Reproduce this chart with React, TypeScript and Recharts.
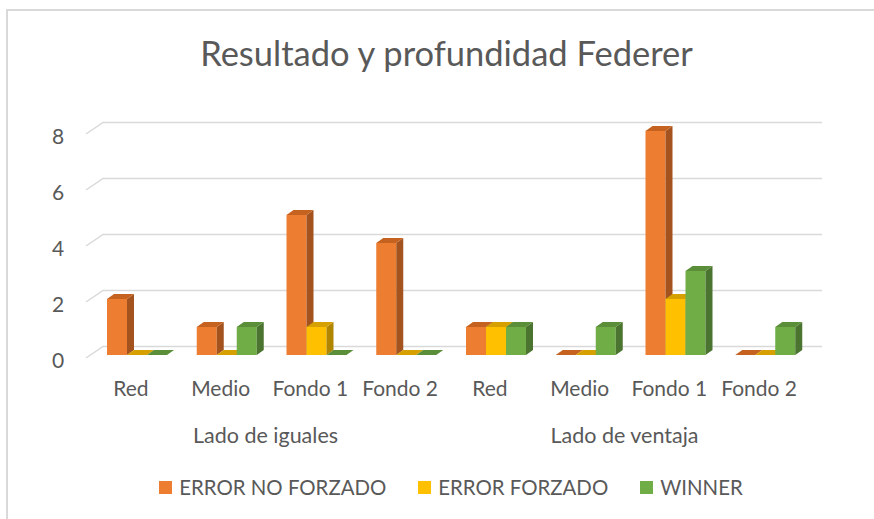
import { BarChart, Bar, XAxis, YAxis, CartesianGrid, Legend } from 'recharts'

const categories = ['Red', 'Medio', 'Fondo 1', 'Fondo 2', 'Red', 'Medio', 'Fondo 1', 'Fondo 2']
const groups = [
  'Lado de iguales',
  'Lado de iguales',
  'Lado de iguales',
  'Lado de iguales',
  'Lado de ventaja',
  'Lado de ventaja',
  'Lado de ventaja',
  'Lado de ventaja',
]
const errorNoForzado = [2, 1, 5, 4, 1, 0, 8, 0]
const errorForzado = [0, 0, 1, 0, 1, 0, 2, 0]
const winner = [0, 1, 0, 0, 1, 1, 3, 1]
const yTicks = [0, 2, 4, 6, 8]
const seriesOrder = ['ERROR NO FORZADO', 'ERROR FORZADO', 'WINNER']

const chartData = categories.map((cat, i) => ({
  cat,
  group: groups[i],
  noForzado: errorNoForzado[i],
  forzado: errorForzado[i],
  winner: winner[i],
}))

const FONT = 'Lato, "Open Sans", sans-serif'
const TEXT = '#595959'
const DX = 7
const DY = 5

function makeBox(front: string, top: string, side: string) {
  return function Box(props: any) {
    const { x, y, width, height } = props
    if (x == null || y == null) return <g />
    const w = width
    const h = Math.max(height, 0)
    return (
      <g>
        <rect x={x} y={y} width={w} height={h} fill={front} />
        <path
          d={`M${x + w},${y} L${x + w + DX},${y - DY} L${x + w + DX},${y + h - DY} L${x + w},${y + h} Z`}
          fill={side}
        />
        <path
          d={`M${x},${y} L${x + DX},${y - DY} L${x + w + DX},${y - DY} L${x + w},${y} Z`}
          fill={top}
        />
      </g>
    )
  }
}

const OrangeBox = makeBox('#ED7D31', '#C5621F', '#A4531E')
const YellowBox = makeBox('#FFC000', '#D6A100', '#B08500')
const GreenBox = makeBox('#70AD47', '#5A8E38', '#4B7430')

// back-wall gridline with the short slanted side-wall piece on the left
function GridLine(props: any) {
  const { x1, x2, y1, key } = props
  return (
    <path
      key={key}
      d={`M${x1 - 6},${y1 + 3} L${x1 + 11},${y1 - 8.5} L${x2 + 12},${y1 - 8.5}`}
      stroke="#D9D9D9"
      strokeWidth={1.5}
      fill="none"
    />
  )
}

function YTick(props: any) {
  const { x, y, payload } = props
  return (
    <text x={x - 26} y={y + 4} textAnchor="middle" dominantBaseline="central" fill={TEXT} fontSize={21} fontFamily={FONT}>
      {payload.value}
    </text>
  )
}

function CatTick(props: any) {
  const { x, y, payload } = props
  return (
    <text x={x - 6} y={y + 33} textAnchor="middle" fill={TEXT} fontSize={21} fontFamily={FONT}>
      {payload.value}
    </text>
  )
}

function GroupTick(props: any) {
  const { x, y, payload } = props
  return (
    <text x={x - 6} y={y + 40} textAnchor="middle" fill={TEXT} fontSize={21.5} fontFamily={FONT}>
      {payload.value}
    </text>
  )
}

function LegendContent(props: any) {
  const items = [...(props.payload || [])].sort(
    (a: any, b: any) => seriesOrder.indexOf(a.value) - seriesOrder.indexOf(b.value),
  )
  return (
    <div style={{ display: 'flex', justifyContent: 'center', height: 24, alignItems: 'center', fontFamily: FONT }}>
      {items.map((item: any) => (
        <div key={item.value} style={{ display: 'flex', alignItems: 'center', margin: '0 16px' }}>
          <span style={{ width: 13, height: 13, background: item.color, marginRight: 7, display: 'inline-block' }} />
          <span style={{ color: TEXT, fontSize: 20.4 }}>{item.value}</span>
        </div>
      ))}
    </div>
  )
}

export default function App() {
  return (
    <div style={{ position: 'fixed', left: 0, top: 0, width: 874, height: 519, overflow: 'hidden', background: '#fff' }}>
      <div
        style={{
          position: 'absolute',
          left: 6,
          top: 9,
          width: 900,
          height: 600,
          borderLeft: '2px solid #D9D9D9',
          borderTop: '2px solid #D9D9D9',
        }}
      />
      <div
        style={{
          position: 'absolute',
          left: 0,
          top: 32,
          width: 893,
          textAlign: 'center',
          fontFamily: FONT,
          fontSize: 34.5,
          color: TEXT,
          lineHeight: '42px',
        }}
      >
        Resultado y profundidad Federer
      </div>
      <div style={{ position: 'absolute', left: 0, top: 0 }}>
        <BarChart
          width={874}
          height={519}
          data={chartData}
          margin={{ top: 131, right: 64, left: 32, bottom: 20 }}
          barGap={0}
          barSize={20}
        >
          <CartesianGrid vertical={false} horizontal={GridLine} stroke="#D9D9D9" />
          <XAxis dataKey="cat" xAxisId={0} height={40} axisLine={false} tickLine={false} tick={CatTick} interval={0} />
          <XAxis
            dataKey="group"
            xAxisId="grp"
            height={80}
            axisLine={false}
            tickLine={false}
            tick={GroupTick}
            allowDuplicatedCategory={false}
            interval={0}
          />
          <YAxis width={60} domain={[0, 8]} ticks={yTicks} axisLine={false} tickLine={false} tick={YTick} />
          <Legend
            verticalAlign="bottom"
            content={LegendContent}
            wrapperStyle={{ left: 92, width: 718 }}
          />
          <Bar dataKey="noForzado" name="ERROR NO FORZADO" xAxisId={0} fill="#ED7D31" shape={OrangeBox} isAnimationActive={false} />
          <Bar dataKey="forzado" name="ERROR FORZADO" xAxisId={0} fill="#FFC000" shape={YellowBox} isAnimationActive={false} />
          <Bar dataKey="winner" name="WINNER" xAxisId={0} fill="#70AD47" shape={GreenBox} isAnimationActive={false} />
        </BarChart>
      </div>
    </div>
  )
}
